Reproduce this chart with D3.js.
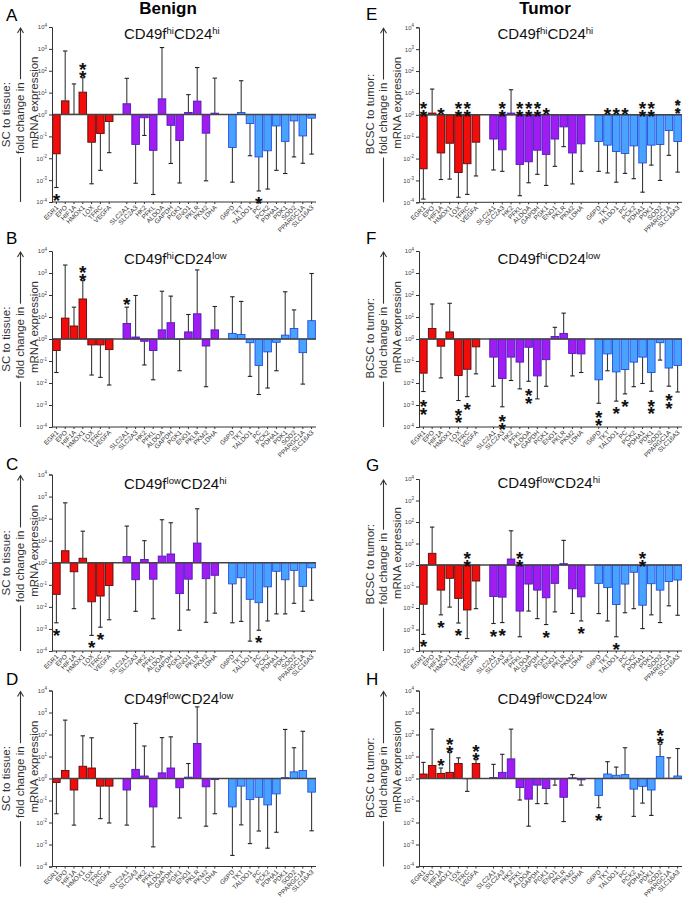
<!DOCTYPE html>
<html><head><meta charset="utf-8">
<script src="https://cdn.jsdelivr.net/npm/d3@7"></script>
<style>body{margin:0;background:#fff}svg{display:block;font-family:"Liberation Sans",Arial,sans-serif}
.vstar{writing-mode:vertical-rl;text-orientation:upright}</style>
</head><body><svg id="c" width="685" height="901"></svg>
<script>
// ---- categories ----
const genesRed = ["EGR1","EPO","HIF1A","HMOX1","LOX","TFRC","VEGFA"];
const genesPurple = ["SLC2A1","SLC2A3","HK2","PFKL","ALDOA","GAPDH","PGK1","ENO1","PKLR","PKM2","LDHA"];
const genesBlue = ["G6PD","TKT","TALDO1","PC","PCK2","PDHA1","PDK1","SOD2","PPARGC1A","SLC16A3"];
const yTicks = [1e-4,1e-3,1e-2,1e-1,1,1e1,1e2,1e3,1e4];

// ---- fold change (mean) and error-bar end, per panel ----
const valA = [0.016,4.2,1.02,10.5,0.054,0.135,0.48, 3.1,0.043,0.71,0.023,5.2,0.32,0.065,1.23,4.1,0.14,1.15, 0.031,1.23,0.39,0.0115,0.022,0.30,0.059,0.51,0.105,0.68];
const errA = [0.00046,800,25,48,0.00068,0.0028,0.018, 45,0.00072,0.11,0.00022,1150,0.0058,0.00074,8.1,140,0.00093,46, 0.00081,35,0.013,0.00032,0.00039,0.0028,0.002,0.0115,0.0059,0.0155];
const sigA = ["*","","","**","","","", "","","","","","","","","","","", "","","","*","","","","","",""];

const valB = [0.30,8.9,3.9,66,0.54,0.54,0.33, 5.1,1.23,0.79,0.30,2.6,5.5,0.96,2.1,14,0.48,2.6, 1.8,1.6,0.68,0.063,0.26,0.71,1.5,3.0,0.24,6.8];
const errB = [0.030,2300,28,450,0.023,0.018,0.0081, 28,95,0.066,0.014,148,89,0.036,13,1380,0.0068,30, 83,51,0.02,0.003,0.0059,0.036,140,21,0.0089,950];
const sigB = ["","","","**","","","", "*","","","","","","","","","","", "","","","","","","","","",""];

const valC = [0.037,3.5,0.39,1.6,0.017,0.031,0.093, 1.9,0.17,1.4,0.18,2.0,2.5,0.04,0.18,7.8,0.19,0.27, 0.11,0.21,0.022,0.0155,0.081,0.41,0.17,0.45,0.085,0.59];
const errC = [0.0019,520,0.0083,27,0.00051,0.0012,0.0026, 46,0.0063,10,0.0029,89,65,0.00087,0.0072,280,0.002,0.0052, 0.0019,0.0022,0.00028,0.00087,0.0023,0.0048,0.0048,0.0145,0.0063,0.02];
const sigC = ["*","","","","*","*","", "","","","","","","","","","","", "","","","*","","","","","",""];

const valD = [0.66,2.3,0.30,3.6,3.0,0.45,0.45, 0.30,2.6,1.3,0.051,1.8,3.0,0.38,1.15,39,0.42,0.89, 0.051,0.45,0.11,0.14,0.063,0.20,1.1,2.0,2.3,0.24];
const errD = [0.025,450,0.0076,87,71,0.015,0.0095, 0.0076,320,30,0.00078,72,78,0.016,4.8,1800,0.0068,0.025, 0.00032,0.0078,0.0011,0.0041,0.00068,0.0036,170,25,140,0.0042];
const sigD = ["","","","","","","", "","","","","","","","","","","", "","","","","","","","","",""];

const valE = [0.0034,1.2,0.018,0.05,0.0023,0.0058,0.056, 0.078,0.025,1.2,0.0054,0.0071,0.024,0.0155,0.078,0.28,0.018,0.047, 0.06,0.041,0.021,0.017,0.038,0.0063,0.041,0.044,0.19,0.06];
const errE = [0.00014,15,0.0011,0.00115,0.00017,0.00023,0.0016, 0.003,0.0026,14,0.0002,0.00078,0.0019,0.00059,0.0044,0.035,0.00069,0.0026, 0.0026,0.0022,0.00083,0.0021,0.0012,0.00029,0.005,0.001,0.014,0.0024];
const sigE = ["^**","","^*","","^**","^**","", "","^**","","^**","^**","^**","^*","","","","", "","^*","^*","^*","","^**","^**","","","^**"];

const valF = [0.028,3.0,0.47,2.1,0.022,0.042,0.44, 0.15,0.016,0.15,0.089,0.42,0.021,0.115,1.3,1.8,0.22,0.21, 0.014,0.21,0.032,0.041,0.089,0.15,0.03,0.68,0.048,0.063];
const errF = [0.0041,39,0.017,42,0.0016,0.0024,0.026, 0.0071,0.00083,0.013,0.0054,0.012,0.0019,0.0071,3.4,15,0.021,0.03, 0.0012,0.036,0.0015,0.0032,0.0068,0.0095,0.0042,0.11,0.0072,0.0039];
const sigF = ["**","","","","**","*","", "","**","","","**","","","","","","", "**","","*","*","","","**","","**",""];

const valG = [0.015,3.5,0.068,0.24,0.028,0.0081,0.18, 0.034,0.032,1.9,0.0072,0.13,0.068,0.03,0.14,1.15,0.078,0.033, 0.14,0.089,0.0145,0.13,0.46,0.0135,0.135,0.068,0.17,0.2];
const errG = [0.00059,58,0.0048,0.011,0.002,0.00038,0.0093, 0.0019,0.0021,39,0.00046,0.0072,0.0032,0.0017,0.0066,14,0.0056,0.0025, 0.0055,0.0025,0.00046,0.006,0.0093,0.0011,0.0048,0.0021,0.0126,0.0046];
const sigG = ["*","","*","","*","^**","", "*","*","","^**","","","*","","","","*", "","","*","","","^**","","","",""];

const valH = [1.6,3.9,1.7,1.9,4.8,0.98,4.8, 1.1,1.9,7.8,0.39,0.115,0.5,0.35,0.93,0.14,1.07,0.87, 0.17,1.6,1.4,1.5,0.33,0.44,0.3,10,1.02,1.3];
const errH = [5.4,175,3.0,15,8.7,0.26,7.2, 4.4,12.6,175,0.105,0.0068,0.072,0.072,0.5,0.011,1.5,0.5, 0.047,5.8,3.3,25,0.019,0.076,0.021,36,8.7,23];
const sigH = ["","","*","**","","","**", "","","","","","","","","","","", "*","","","","","","","**","",""];

// ---- layout ----
const W = 685;
const genes = genesRed.concat(genesPurple, genesBlue);
const slots = genesRed.concat(["_g1"], genesPurple, ["_g2"], genesBlue);
const groupOf = g => genesRed.includes(g) ? 0 : genesPurple.includes(g) ? 1 : 2;
const fills = ["#f20c0c", "#a01cf0", "#4aa2ff"];
const strokes = ["#5a0a0a", "#4b1bc4", "#1d4fe6"];
const cols = [{x0:52, x1:316, ylab:["SC to tissue:","fold change in","mRNA expression"], lx:[10,24,37.5], c1:0.2},
              {x0:419, x1:682, ylab:["BCSC to tumor:","fold change in","mRNA expression"], lx:[374,387,400.5], c1:-0.8}];
const panels = [
 {L:"A", v:valA, e:errA, s:sigA, sub:["hi","hi"], col:0, top:27,  bot:202, ly:21,  ty:39},
 {L:"B", v:valB, e:errB, s:sigB, sub:["hi","low"], col:0, top:251, bot:427, ly:244, ty:264},
 {L:"C", v:valC, e:errC, s:sigC, sub:["low","hi"], col:0, top:474.5, bot:651, ly:470, ty:489},
 {L:"D", v:valD, e:errD, s:sigD, sub:["low","low"], col:0, top:690.5, bot:866.5, ly:685, ty:704},
 {L:"E", v:valE, e:errE, s:sigE, sub:["hi","hi"], col:1, top:27.3, bot:202.3, ly:20, ty:39},
 {L:"F", v:valF, e:errF, s:sigF, sub:["hi","low"], col:1, top:251, bot:427, ly:244, ty:264},
 {L:"G", v:valG, e:errG, s:sigG, sub:["low","hi"], col:1, top:479, bot:651, ly:471, ty:488},
 {L:"H", v:valH, e:errH, s:sigH, sub:["low","low"], col:1, top:690.5, bot:866.5, ly:685, ty:704}
];

const svg = d3.select("#c");
svg.append("text").attr("x",168).attr("y",14).attr("text-anchor","middle").attr("font-size",17).attr("font-weight","bold").text("Benign");
svg.append("text").attr("x",545).attr("y",14).attr("text-anchor","middle").attr("font-size",17).attr("font-weight","bold").text("Tumor");

panels.forEach(p => {
  const c = cols[p.col];
  const g = svg.append("g");
  const x = d3.scaleBand().domain(slots).range([c.x0, c.x1]).paddingInner(0.14).paddingOuter(0.07);
  const y = d3.scaleLog().domain([1e-4, 1e4]).range([p.bot, p.top]);
  const y0 = y(1);

  // letter + subtitle
  g.append("text").attr("x", p.col ? 366 : 6).attr("y", p.ly).attr("font-size",17).text(p.L);
  const t = g.append("text").attr("x", p.col ? 497.5 : 124).attr("y", p.ty).attr("font-size",15).attr("fill","#111");
  t.append("tspan").text("CD49f");
  t.append("tspan").attr("font-size",9.5).attr("dy",-5).text(p.sub[0]);
  t.append("tspan").attr("dy",5).text("CD24");
  t.append("tspan").attr("font-size",9.5).attr("dy",-5).text(p.sub[1]);

  // y label with arrow
  const mid = (p.top + p.bot) / 2;
  [0,1,2].forEach(i => {
    const cy = i===0 ? mid + c.c1 : i===1 ? mid + 3.7 : mid - 12;
    g.append("text").attr("transform",`translate(${c.lx[i]},${cy}) rotate(-90)`)
     .attr("text-anchor","middle").attr("font-size",11.5).attr("fill","#333").text(c.ylab[i]);
  });
  const ax = c.lx[1] - 3.5, tc = mid + 3.7, half = 36;
  g.append("line").attr("x1",ax).attr("x2",ax).attr("y1",p.bot).attr("y2",tc+half+3).attr("stroke","#333").attr("stroke-width",1.1);
  g.append("line").attr("x1",ax).attr("x2",ax).attr("y1",tc-half-3).attr("y2",p.top+1).attr("stroke","#333").attr("stroke-width",1.1);
  g.append("path").attr("d",`M${ax-3},${p.top+6}L${ax},${p.top+1}L${ax+3},${p.top+6}`).attr("fill","none").attr("stroke","#333").attr("stroke-width",1.1);

  // bars
  const data = genes.map((gn,i) => ({g:gn, v:p.v[i], e:p.e[i], s:p.s[i], grp:groupOf(gn)}));
  g.selectAll("rect.bar").data(data).join("rect").attr("class","bar")
    .attr("x", d => x(d.g)).attr("width", x.bandwidth())
    .attr("y", d => y(Math.max(d.v,1))).attr("height", d => Math.abs(y(d.v) - y0))
    .attr("fill", d => fills[d.grp]).attr("stroke", d => strokes[d.grp]).attr("stroke-width",0.9);

  // error bars
  const eb = g.selectAll("g.eb").data(data).join("g").attr("class","eb");
  eb.append("line").attr("x1", d => x(d.g)+x.bandwidth()/2).attr("x2", d => x(d.g)+x.bandwidth()/2)
    .attr("y1", d => y(d.v)).attr("y2", d => y(d.e)).attr("stroke","#3a3a3a").attr("stroke-width",1.1);
  eb.append("line").attr("x1", d => x(d.g)+x.bandwidth()/2-2.2).attr("x2", d => x(d.g)+x.bandwidth()/2+2.2)
    .attr("y1", d => y(d.e)).attr("y2", d => y(d.e)).attr("stroke","#222").attr("stroke-width",1.1);

  // zero line
  g.append("line").attr("x1",c.x0).attr("x2",c.x1).attr("y1",y0).attr("y2",y0).attr("stroke","#444").attr("stroke-width",1.4);

  // axes
  const ya = g.append("g").attr("transform",`translate(${c.x0},0)`)
    .call(d3.axisLeft(y).tickValues(yTicks).tickSize(3).tickPadding(2));
  ya.select(".domain").attr("stroke","#333");
  ya.selectAll(".tick line").attr("stroke","#333");
  ya.selectAll(".tick text").attr("font-size",6).attr("fill","#444").text(null)
    .each(function(d){ const s=d3.select(this); s.append("tspan").text("10");
      s.append("tspan").attr("font-size",4.5).attr("dy",-2.5).text(Math.round(Math.log10(d))); });
  const xa = g.append("g").attr("transform",`translate(0,${p.bot})`)
    .call(d3.axisBottom(x).tickValues(genes).tickSize(2).tickSizeOuter(0));
  xa.select(".domain").attr("stroke","#333").attr("d",`M${c.x0},0H${c.x1}`);
  xa.selectAll(".tick line").attr("stroke","#333");
  xa.selectAll(".tick text").attr("font-size",6.5).attr("fill","#333").attr("y",0).attr("dy",0)
    .attr("text-anchor","end").attr("transform","translate(2.5,6) rotate(-45)");

  // significance stars: one text per mark; stacked stars as upright vertical text
  const fs = 19, gap = 8;
  data.forEach(d => {
    if (!d.s) return;
    const atTop = d.s[0] === "^";
    const mark = d.s.replace("^","");
    const n = mark.length;
    const cx = x(d.g) + x.bandwidth()/2;
    let c0, dir;
    if (atTop) { c0 = y0 - 5; dir = -1; }
    else if (d.e >= d.v && d.e >= 1) { c0 = y(d.e) - 7; dir = -1; }
    else { c0 = y(d.e) + 8; dir = 1; }
    const cmid = c0 + dir * gap/2 * (n - 1);
    const st = g.append("text").attr("font-weight","bold").attr("fill","#111");
    if (n === 1) {
      st.attr("font-size",fs).attr("x",cx).attr("y",cmid + 0.58*fs).attr("text-anchor","middle").text(mark);
    } else {
      // keep the vertical glyph cell inside the picture at the right edge
      const fv = Math.min(fs, 2 * (W - 0.5 - cx));
      st.attr("class","vstar").attr("font-size",fv).attr("x",cx).attr("y",cmid).attr("text-anchor","middle")
        .attr("letter-spacing", gap - 1.117*fv);
      if (fv < fs) st.attr("stroke","#111").attr("stroke-width",0.35*(fs-fv)/4).attr("stroke-linejoin","round");
      st.text(mark);
    }
  });
});
</script></body></html>
